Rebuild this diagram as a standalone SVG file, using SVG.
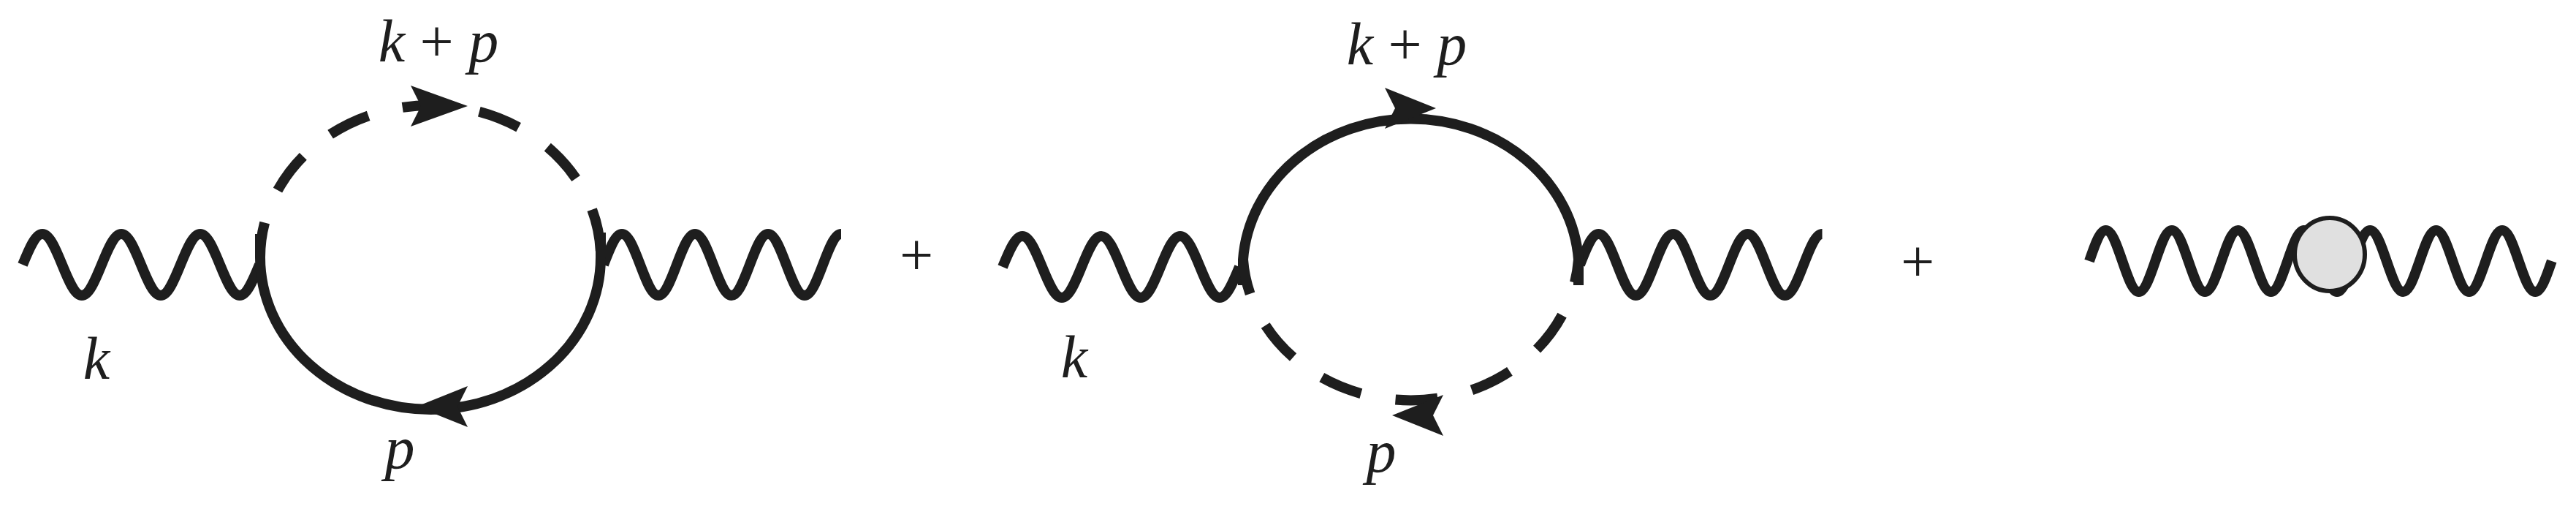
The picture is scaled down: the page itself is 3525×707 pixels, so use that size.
<svg xmlns="http://www.w3.org/2000/svg" width="3525" height="707" viewBox="0 0 3525 707">
<style>
.ln{fill:none;stroke:#1e1e1e;stroke-width:14;stroke-linecap:butt}
.dash{stroke-dasharray:58 48}
.arr{fill:#1e1e1e}
.t{font-family:"Liberation Serif",serif;font-size:82px;fill:#1e1e1e;text-anchor:middle}
.i{font-style:italic}
</style>
<rect width="3525" height="707" fill="#fff"/>
<g id="connectors">
<path class="ln" d="M31,362 c9,-22 17.3,-42 27,-42 s18,20 27,42 s17.3,42 27,42 s18,-20 27,-42 s17.3,-42 27,-42 s18,20 27,42 s17.3,42 27,42 s18,-20 27,-42 s17.3,-42 27,-42 s18,20 27,42 s17.3,42 27,42 s18,-20 27,-42"/>
<path class="ln" d="M826,362 c8.35,-22 16,-42 25,-42 s16.65,20 25,42 s16,42 25,42 s16.65,-20 25,-42 s16,-42 25,-42 s16.65,20 25,42 s16,42 25,42 s16.65,-20 25,-42 s16,-42 25,-42 s16.65,20 25,42 s16,42 25,42 s16.65,-20 25,-42 s16,-42 25,-42"/>
<path class="ln dash" stroke-dashoffset="10" d="M356,352 A233,208 0 0 1 822,352"/>
<path class="ln" d="M356,320 L356,352 A233,208 0 0 0 822,352 L822,318"/>
<path class="ln" d="M1372,365 c9,-22 17.3,-42 27,-42 s18,20 27,42 s17.3,42 27,42 s18,-20 27,-42 s17.3,-42 27,-42 s18,20 27,42 s17.3,42 27,42 s18,-20 27,-42 s17.3,-42 27,-42 s18,20 27,42 s17.3,42 27,42 s18,-20 27,-42"/>
<path class="ln" d="M2162,362 c8.5,-22 16.3,-42 25.5,-42 s17,20 25.5,42 s16.3,42 25.5,42 s17,-20 25.5,-42 s16.3,-42 25.5,-42 s17,20 25.5,42 s16.3,42 25.5,42 s17,-20 25.5,-42 s16.3,-42 25.5,-42 s17,20 25.5,42 s16.3,42 25.5,42 s17,-20 25.5,-42 s16.3,-42 25.5,-42"/>
<path class="ln" d="M1701,390 L1701,355 A230,206 0 0 1 2160,355 L2160,390"/>
<path class="ln dash" stroke-dashoffset="10" d="M1701,355 A230,206 0 0 0 2160,355"/>
<path class="ln" d="M2859,357 c7.55,-22 14.46,-42 22.6,-42 s15.05,20 22.6,42 s14.46,42 22.6,42 s15.05,-20 22.6,-42 s14.46,-42 22.6,-42 s15.05,20 22.6,42 s14.46,42 22.6,42 s15.05,-20 22.6,-42 s14.46,-42 22.6,-42 s15.05,20 22.6,42 s14.46,42 22.6,42 s15.05,-20 22.6,-42 s14.46,-42 22.6,-42 s15.05,20 22.6,42 s14.46,42 22.6,42 s15.05,-20 22.6,-42 s14.46,-42 22.6,-42 s15.05,20 22.6,42 s14.46,42 22.6,42 s15.05,-20 22.6,-42 s14.46,-42 22.6,-42 s15.05,20 22.6,42 s14.46,42 22.6,42 s15.05,-20 22.6,-42 s14.46,-42 22.6,-42 s15.05,20 22.6,42 s14.46,42 22.6,42 s15.05,-20 22.6,-42"/>
<polygon class="arr" points="640,145 562,117 576,145 562,173"/>
<polygon class="arr" points="570,556 640,528 626,556 640,584"/>
<polygon class="arr" points="1965,148 1895,120 1909,148 1895,176"/>
<polygon class="arr" points="1905,568 1975,540 1961,568 1975,596"/>
</g>
<g id="blob"><ellipse cx="3188" cy="348" rx="48" ry="50" fill="#e0e0e0" stroke="#1e1e1e" stroke-width="6"/></g>
<g id="labels">
<text class="t" x="600" y="84"><tspan class="i">k</tspan> + <tspan class="i">p</tspan></text>
<text class="t i" x="132" y="518">k</text>
<text class="t i" x="547" y="640">p</text>
<text class="t" x="1254" y="376">+</text>
<text class="t" x="1925" y="88"><tspan class="i">k</tspan> + <tspan class="i">p</tspan></text>
<text class="t i" x="1470" y="516">k</text>
<text class="t i" x="1890" y="645">p</text>
<text class="t" x="2624" y="385">+</text>
</g>
</svg>
